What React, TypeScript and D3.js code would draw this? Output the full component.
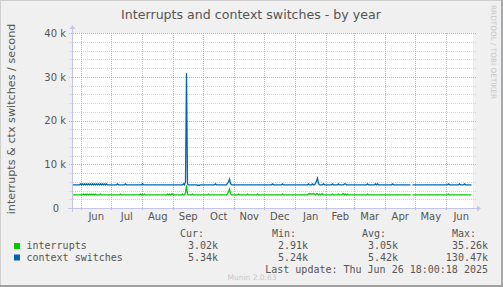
import React from "react";
import * as d3 from "d3";

const W = 503;
const H = 287;

const titleText = "Interrupts and context switches - by year";
const yAxisTitle = "interrupts & ctx switches / second";
const yTickValues = [0, 10000, 20000, 30000, 40000];
const yTickLabels = ["0", "10 k", "20 k", "30 k", "40 k"];
const monthLabels = ["Jun", "Jul", "Aug", "Sep", "Oct", "Nov", "Dec", "Jan", "Feb", "Mar", "Apr", "May", "Jun"];

// daily averages, in thousands per second (null = no data)
const interrupts: (number | null)[] = [
  3.0,3.0,3.0,3.0,3.0,3.0,3.0,3.0,3.0,3.0,3.0,3.2,3.0,3.2,3.0,3.2,3.0,3.2,3.0,3.2,
  3.0,3.2,3.0,3.2,3.0,3.0,3.0,3.0,3.2,3.0,3.0,3.0,3.0,3.0,3.0,3.0,3.0,3.0,3.0,3.0,
  3.0,3.0,3.0,3.0,3.0,3.0,3.0,3.0,3.2,3.0,3.0,3.0,3.0,3.0,3.0,3.0,3.0,3.0,3.0,3.0,
  3.0,3.0,3.0,3.0,3.0,3.0,3.0,3.0,3.2,3.0,3.2,3.0,3.2,3.0,3.0,3.0,3.0,3.0,3.0,3.0,
  3.0,3.0,3.0,3.0,3.0,3.0,3.0,3.0,3.0,3.0,3.0,3.0,3.0,3.0,3.0,3.2,3.0,3.2,3.0,3.2,
  3.2,3.0,3.0,3.0,3.0,3.0,3.0,3.0,3.0,3.0,3.2,3.0,3.0,3.5,5.2,3.2,3.0,3.0,3.0,3.0,
  3.2,3.0,3.0,3.0,3.0,3.0,3.0,3.0,3.0,3.0,3.0,3.0,3.0,3.0,3.0,3.0,3.2,3.0,3.0,3.0,
  3.0,3.0,3.0,3.0,3.0,3.0,3.0,3.0,3.0,3.0,3.0,3.0,3.0,3.0,3.0,3.3,3.7,4.3,3.3,3.0,
  3.0,3.0,3.0,3.0,3.0,3.0,3.2,3.0,3.0,3.0,3.0,3.0,3.0,3.0,3.0,3.2,3.0,3.0,3.0,3.0,
  3.0,3.0,3.0,3.0,3.0,3.2,3.0,3.0,3.0,3.0,3.0,3.0,3.0,3.0,3.0,3.0,3.0,3.0,3.0,3.0,
  3.0,3.0,3.0,3.0,3.0,3.0,3.0,3.0,3.0,3.0,3.2,3.0,3.0,3.0,3.0,3.0,3.0,3.0,3.0,3.0,
  3.0,3.0,3.0,3.0,3.0,3.0,3.0,3.0,3.0,3.0,3.0,3.0,3.0,3.0,3.0,3.0,3.2,3.2,3.3,3.2,
  3.2,3.3,3.2,3.0,3.3,3.2,3.0,3.2,3.0,3.2,3.2,3.0,3.0,3.0,3.0,3.0,3.0,3.0,3.0,3.0,
  3.2,3.0,3.0,3.0,3.0,3.0,3.2,3.0,3.0,3.0,3.2,3.3,3.0,3.2,3.0,3.2,3.0,3.0,3.0,3.0,
  3.0,3.0,3.0,3.0,3.0,3.0,3.0,3.0,3.0,3.0,3.0,3.0,3.0,3.0,3.0,3.2,3.0,3.0,3.0,3.0,
  3.0,3.0,3.0,3.0,3.0,3.0,3.0,3.0,3.0,3.0,3.0,3.0,3.0,3.0,3.0,3.0,3.0,3.0,3.0,3.0,
  3.0,3.0,3.0,3.0,3.0,3.0,3.0,3.0,3.0,3.0,3.0,3.0,3.0,3.0,3.0,3.0,3.0,3.0,3.0,null,
  3.0,3.0,3.0,3.0,3.0,3.0,3.0,3.0,3.0,3.0,3.0,3.0,3.0,3.0,3.0,3.0,3.0,3.0,3.0,3.0,
  3.0,3.0,3.0,3.0,3.0,3.0,3.0,3.0,3.0,3.0,3.0,3.0,3.0,3.0,3.0,3.0,3.2,3.0,3.0,3.0,
  3.0,3.0,3.0,3.0,3.0,3.0,3.0,3.0,3.0,3.0,3.0,3.0,3.0,3.0,3.0,3.0,3.0,3.0,3.0,3.0,
];

const contextSwitches: (number | null)[] = [
  5.3,5.3,5.3,5.3,5.3,5.3,5.3,5.3,5.5,5.3,5.5,5.3,5.5,5.3,5.5,5.3,5.5,5.3,5.5,5.3,
  5.5,5.3,5.5,5.3,5.5,5.3,5.5,5.3,5.5,5.3,5.5,5.3,5.5,5.3,5.5,5.3,5.3,5.3,5.3,5.3,
  5.3,5.3,5.3,5.3,5.3,5.5,5.3,5.3,5.3,5.3,5.3,5.3,5.3,5.5,5.3,5.3,5.3,5.3,5.3,5.3,
  5.3,5.3,5.3,5.3,5.3,5.3,5.3,5.3,5.3,5.3,5.6,5.3,5.3,5.3,5.3,5.3,5.3,5.3,5.3,5.3,
  5.3,5.3,5.3,5.3,5.3,5.3,5.3,5.3,5.3,5.3,5.3,5.3,5.3,5.3,5.3,5.3,5.3,5.3,5.3,5.3,
  5.3,5.3,5.3,5.3,5.3,5.3,5.3,5.3,5.3,5.3,5.3,5.5,5.3,6.0,30.8,5.5,5.3,5.3,5.3,5.3,
  5.3,5.3,5.3,5.3,5.3,5.2,5.2,5.2,5.3,5.3,5.3,5.3,5.3,5.3,5.3,5.3,5.3,5.3,5.3,5.3,
  5.3,5.3,5.3,5.5,5.3,5.3,5.3,5.3,5.3,5.3,5.3,5.3,5.3,5.3,5.3,5.6,6.0,6.6,5.6,5.3,
  5.3,5.3,5.3,5.3,5.3,5.3,5.3,5.3,5.3,5.3,5.3,5.3,5.3,5.3,5.3,5.3,5.3,5.3,5.3,5.3,
  5.3,5.3,5.3,5.3,5.3,5.3,5.3,5.3,5.3,5.3,5.3,5.3,5.3,5.3,5.3,5.3,5.3,5.3,5.3,5.3,
  5.5,5.3,5.3,5.3,5.3,5.3,5.3,5.3,5.3,5.3,5.5,5.3,5.3,5.3,5.3,5.3,5.3,5.3,5.3,5.3,
  5.3,5.3,5.3,5.3,5.3,5.3,5.3,5.3,5.3,5.3,5.3,5.3,5.3,5.3,5.3,5.3,5.5,5.3,5.3,5.3,
  5.5,5.3,5.3,5.6,6.2,6.8,5.6,5.3,5.3,5.3,5.3,5.5,5.3,5.3,5.3,5.3,5.3,5.3,5.3,5.3,
  5.5,5.3,5.3,5.3,5.3,5.3,5.5,5.3,5.3,5.3,5.3,5.3,5.5,5.5,5.3,5.3,5.3,5.3,5.3,5.3,
  5.3,5.3,5.3,5.3,5.3,5.3,5.3,5.3,5.3,5.3,5.3,5.3,5.3,5.3,5.3,5.5,5.3,5.3,5.3,5.3,
  5.3,5.3,5.3,5.5,5.3,5.5,5.3,5.3,5.3,5.3,5.3,5.3,5.3,5.3,5.3,5.3,5.3,5.3,5.3,5.3,
  5.5,5.3,5.3,5.3,5.3,5.3,5.3,5.3,5.3,5.3,5.3,5.3,5.3,5.3,5.3,5.3,5.3,5.3,5.3,null,
  5.3,5.3,5.3,5.3,5.3,5.3,5.3,5.3,5.3,5.3,5.3,5.3,5.3,5.3,5.3,5.3,5.3,5.3,5.3,5.3,
  5.3,5.3,5.3,5.3,5.3,5.3,5.3,5.3,5.3,5.3,5.3,5.3,5.3,5.3,5.3,5.3,5.5,5.3,5.3,5.3,
  5.3,5.3,5.3,5.3,5.3,5.3,5.3,5.5,5.3,5.3,5.3,5.3,5.5,5.3,5.3,5.3,5.3,5.3,5.3,5.3,
];

const seriesNames = ["interrupts", "context switches"];
const seriesColors = ["#00cc00", "#0066b3"];
const curValues = ["3.02k", "5.34k"];
const minValues = ["2.91k", "5.24k"];
const avgValues = ["3.05k", "5.42k"];
const maxValues = ["35.26k", "130.47k"];
const columnHeaders = ["Cur:", "Min:", "Avg:", "Max:"];
const lastUpdate = "Last update: Thu Jun 26 18:00:18 2025";
const muninVersion = "Munin 2.0.63";
const watermark = "RRDTOOL / TOBI OETIKER";

const DAY = 86400000;
const END = Date.UTC(2025, 5, 26, 18, 0, 18);
const START = END - 400 * DAY;

const SANS = "'DejaVu Sans', Verdana, sans-serif";
const MONO = "'DejaVu Sans Mono', monospace";

export default function App() {
  const plotL = 72;
  const plotR = 472;
  const plotT = 33;
  const plotB = 208;

  const x = d3.scaleUtc().domain([new Date(START), new Date(END)]).range([plotL, plotR]);
  const y = d3.scaleLinear().domain([0, 40000]).range([plotB, plotT]);

  const pts = (arr: (number | null)[]) =>
    arr.map((v, i) => ({ t: new Date(START + (i + 0.5) * DAY), v: v == null ? null : v * 1000 }));

  const line = d3
    .line<{ t: Date; v: number | null }>()
    .defined((d) => d.v != null)
    .x((d) => x(d.t))
    .y((d) => y(d.v as number));

  const minorTicks = d3.range(0, 40001, 2000).filter((v) => v % 10000 !== 0);
  const monthStarts = d3.utcMonth.range(new Date(START), new Date(END));
  const monthMids = monthStarts.map((m) => {
    const next = d3.utcMonth.offset(m, 1);
    return new Date((m.getTime() + next.getTime()) / 2);
  });

  const valueCols = [
    { head: 204, val: 218, data: curValues },
    { head: 296, val: 308, data: minValues },
    { head: 386, val: 398, data: avgValues },
    { head: 476, val: 488, data: maxValues },
  ];
  const rowY = [249, 260.5];

  return (
    <div style={{ position: "fixed", left: 0, top: 0 }}>
      <svg width={W} height={H} style={{ display: "block" }}>
        <rect x={0} y={0} width={W} height={H} fill="#f0f0f0" />
        {/* frame */}
        <line x1={0} y1={0.5} x2={W} y2={0.5} stroke="#cfcfcf" />
        <line x1={0.5} y1={0} x2={0.5} y2={H} stroke="#cfcfcf" />
        <line x1={0} y1={H - 1} x2={W} y2={H - 1} stroke="#a0a0a0" strokeWidth={2} />
        <line x1={W - 1} y1={0} x2={W - 1} y2={H} stroke="#a8a8a8" strokeWidth={2} />

        {/* plot background */}
        <rect x={plotL} y={plotT} width={plotR - plotL + 1} height={plotB - plotT} fill="#ffffff" />

        {/* minor grid */}
        {minorTicks.map((v) => (
          <line key={"mg" + v} x1={plotL - 3} x2={plotR + 4} y1={Math.round(y(v)) + 0.5} y2={Math.round(y(v)) + 0.5}
            stroke="#d4d4d4" strokeDasharray="1,1" />
        ))}
        {/* major grid horizontal */}
        {yTickValues.slice(1).map((v) => (
          <line key={"Mg" + v} x1={plotL - 3} x2={plotR + 4} y1={Math.round(y(v)) + 0.5} y2={Math.round(y(v)) + 0.5}
            stroke="#f0a0a0" strokeDasharray="1,1" />
        ))}
        {/* month grid vertical */}
        {monthStarts.map((m, i) => (
          <line key={"vg" + i} x1={Math.round(x(m)) + 0.5} x2={Math.round(x(m)) + 0.5} y1={plotT} y2={plotB + 3}
            stroke="#f0a0a0" strokeDasharray="1,1" />
        ))}

        {/* title */}
        <text x={251} y={19} textAnchor="middle" fontFamily={SANS} fontSize={12.6} fill="#555">
          {titleText}
        </text>

        {/* y tick labels */}
        {yTickValues.map((v, i) => (
          <text key={"yl" + v} x={v === 0 ? 59 : 66} y={y(v) + 3.8} textAnchor="end" fontFamily={SANS} fontSize={10} fill="#555">
            {yTickLabels[i]}
          </text>
        ))}

        {/* month labels */}
        {monthMids.map((m, i) => (
          <text key={"ml" + i} x={x(m)} y={220} textAnchor="middle" fontFamily={SANS} fontSize={10} fill="#555">
            {monthLabels[i]}
          </text>
        ))}

        {/* y axis title */}
        <text transform={`translate(14.5,119) rotate(-90)`} textAnchor="middle" fontFamily={SANS} fontSize={11.2} fill="#555">
          {yAxisTitle}
        </text>

        {/* watermark */}
        <text transform={`translate(490.5,5) rotate(90)`} textAnchor="start" fontFamily={SANS} fontSize={7.3} fill="#c8c8c8">
          {watermark}
        </text>

        {/* series */}
        <path d={line(pts(interrupts)) || ""} fill="none" stroke={seriesColors[0]} strokeWidth={1.3} />
        <path d={line(pts(contextSwitches)) || ""} fill="none" stroke={seriesColors[1]} strokeWidth={1.3} />

        {/* axes */}
        <line x1={plotL - 4} x2={plotR + 5} y1={plotB + 0.5} y2={plotB + 0.5} stroke="#c4c4ec" />
        <path d={`M${plotR + 5},${plotB - 2.5} L${plotR + 9},${plotB + 0.5} L${plotR + 5},${plotB + 3.5} Z`} fill="#c4c4ec" />
        <line x1={plotL + 0.5} x2={plotL + 0.5} y1={plotB + 4} y2={plotT - 4} stroke="#c4c4ec" />
        <path d={`M${plotL - 2.5},${plotT - 4} L${plotL + 0.5},${plotT - 8} L${plotL + 3.5},${plotT - 4} Z`} fill="#c4c4ec" />

        {/* legend */}
        {columnHeaders.map((h, i) => (
          <text key={"h" + i} x={valueCols[i].head} y={237} textAnchor="end" fontFamily={MONO} fontSize={10} fill="#555">
            {h}
          </text>
        ))}
        {seriesNames.map((n, r) => (
          <g key={"row" + r}>
            <rect x={14} y={rowY[r] - 6} width={6} height={6} fill={seriesColors[r]} />
            <text x={26.5} y={rowY[r]} fontFamily={MONO} fontSize={10} fill="#555">{n}</text>
            {valueCols.map((c, k) => (
              <text key={k} x={c.val} y={rowY[r]} textAnchor="end" fontFamily={MONO} fontSize={10} fill="#555">
                {c.data[r]}
              </text>
            ))}
          </g>
        ))}
        <text x={488} y={272.5} textAnchor="end" fontFamily={MONO} fontSize={10} fill="#555">{lastUpdate}</text>
        <text x={252} y={279.5} textAnchor="middle" fontFamily={SANS} fontSize={7.5} fill="#c8c8c8">{muninVersion}</text>
      </svg>
    </div>
  );
}
